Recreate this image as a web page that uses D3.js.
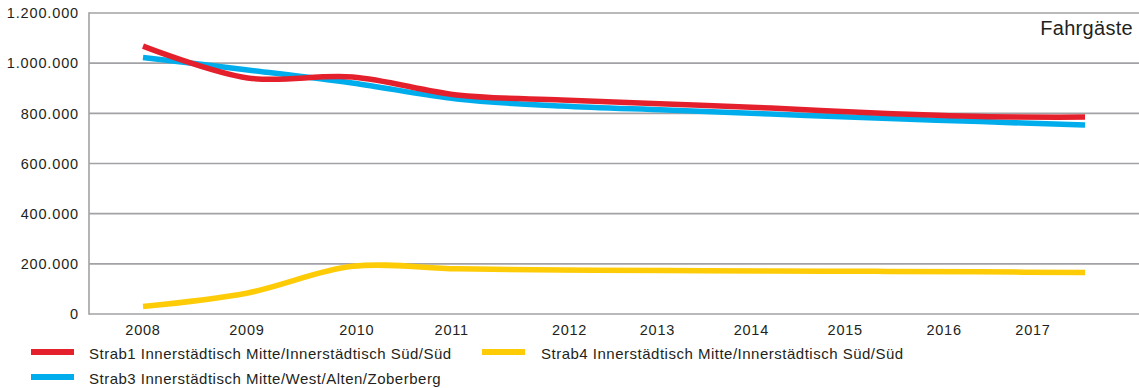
<!DOCTYPE html>
<html>
<head>
<meta charset="utf-8">
<script src="https://cdn.jsdelivr.net/npm/d3@7"></script>
<style>
  html, body { margin: 0; padding: 0; background: #fff; }
  svg { display: block; font-family: "Liberation Sans", Arial, Helvetica, sans-serif; }
</style>
</head>
<body>
<svg id="chart" width="1139" height="388"></svg>
<script>
// Fahrgäste per year on the three tram lines
const years = [2008, 2009, 2010, 2011, 2012, 2013, 2014, 2015, 2016, 2017];
const strab1 = [1068000, 941000, 945000, 873000, 853000, 837000, 821000, 801000, 787000, 785000];
const strab3 = [1023000, 973000, 921000, 857000, 829000, 813000, 797000, 781000, 767000, 753000];
const strab4 = [30000, 84000, 190000, 180000, 175000, 173000, 171000, 170000, 168000, 165000];
const yTicks = [0, 200000, 400000, 600000, 800000, 1000000, 1200000];
const seriesNames = [
  "Strab1 Innerstädtisch Mitte/Innerstädtisch Süd/Süd",
  "Strab3 Innerstädtisch Mitte/West/Alten/Zoberberg",
  "Strab4 Innerstädtisch Mitte/Innerstädtisch Süd/Süd"
];
const unitLabel = "Fahrgäste";

const colors = ["#e4202c", "#00adec", "#fecb07"];
const gridColor = "#a2a2a6";
const textColor = "#231f20";

const svg = d3.select("#chart");
const plot = { left: 89, right: 1139, top: 13, bottom: 314 };

const de = d3.formatLocale({ decimal: ",", thousands: ".", grouping: [3], currency: ["", "€"] });
const fmt = de.format(",");

const y = d3.scaleLinear().domain([0, 1200000]).range([plot.bottom, plot.top]);
const x = d3.scalePoint().domain(years).range([143, 1085]);
// year labels sit on their own, slightly uneven row
const xLabel = d3.scalePoint().domain(years).range([143, 1033]);
const labelNudge = [0, 5, 16, 12, 31, 20, 15, 10, 10, 0];

// grid lines
svg.append("g")
  .selectAll("line")
  .data(yTicks.filter(d => d > 0))
  .join("line")
  .attr("x1", plot.left).attr("x2", plot.right)
  .attr("y1", d => y(d)).attr("y2", d => y(d))
  .attr("stroke", gridColor).attr("stroke-width", 1.6);

// axes frame (left and bottom)
svg.append("line")
  .attr("x1", plot.left).attr("x2", plot.left)
  .attr("y1", plot.top - 0.8).attr("y2", plot.bottom + 0.8)
  .attr("stroke", gridColor).attr("stroke-width", 1.6);
svg.append("line")
  .attr("x1", plot.left).attr("x2", plot.right)
  .attr("y1", y(0)).attr("y2", y(0))
  .attr("stroke", gridColor).attr("stroke-width", 1.6);

// y tick labels
svg.append("g")
  .selectAll("text")
  .data(yTicks)
  .join("text")
  .attr("x", 79)
  .attr("y", d => y(d))
  .attr("dy", "0.36em")
  .attr("text-anchor", "end")
  .attr("font-size", 14.5)
  .attr("letter-spacing", 0.85)
  .attr("fill", textColor)
  .text(d => fmt(d));

// x tick labels
svg.append("g")
  .selectAll("text")
  .data(years)
  .join("text")
  .attr("x", (d, i) => xLabel(d) + labelNudge[i])
  .attr("y", 335)
  .attr("text-anchor", "middle")
  .attr("font-size", 14.5)
  .attr("letter-spacing", 0.75)
  .attr("fill", textColor)
  .text(d => d);

// unit label
svg.append("text")
  .attr("x", 1133).attr("y", 35)
  .attr("text-anchor", "end")
  .attr("font-size", 20)
  .attr("letter-spacing", 0.3)
  .attr("fill", textColor)
  .text(unitLabel);

// lines
const line = d3.line()
  .x((d, i) => x(years[i]))
  .y(d => y(d))
  .curve(d3.curveCatmullRom.alpha(0.5));

const series = [
  { values: strab4, color: colors[2] },
  { values: strab3, color: colors[1] },
  { values: strab1, color: colors[0] }
];
svg.append("g")
  .selectAll("path")
  .data(series)
  .join("path")
  .attr("d", d => line(d.values))
  .attr("fill", "none")
  .attr("stroke", d => d.color)
  .attr("stroke-width", 5.5)
  .attr("stroke-linecap", "butt");

// legend
const legendItems = [
  { name: seriesNames[0], color: colors[0], x: 31, y: 352 },
  { name: seriesNames[2], color: colors[2], x: 482, y: 352 },
  { name: seriesNames[1], color: colors[1], x: 31, y: 377 }
];
const lg = svg.append("g")
  .selectAll("g")
  .data(legendItems)
  .join("g")
  .attr("transform", d => `translate(${d.x},${d.y})`);
lg.append("line")
  .attr("x1", 0).attr("x2", 43)
  .attr("y1", 0).attr("y2", 0)
  .attr("stroke", d => d.color)
  .attr("stroke-width", 6);
lg.append("text")
  .attr("x", d => d.x === 31 ? 58 : 59)
  .attr("y", 7)
  .attr("font-size", 15)
  .attr("letter-spacing", 0.5)
  .attr("fill", textColor)
  .text(d => d.name);
</script>
</body>
</html>
